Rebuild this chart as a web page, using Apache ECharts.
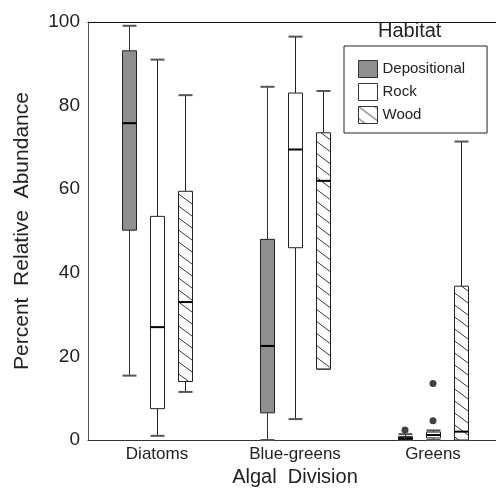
<!DOCTYPE html>
<html>
<head>
<meta charset="utf-8">
<script src="https://cdn.jsdelivr.net/npm/echarts@6/dist/echarts.min.js"></script>
<style>
html, body { margin: 0; padding: 0; background: #fff; }
#chart { width: 496px; height: 488px; }
</style>
</head>
<body>
<div id="chart"></div>
<script>
const categories = ["Diatoms", "Blue-greens", "Greens"];
// [low whisker, Q1, median, Q3, high whisker] for each category
const depositional = [[15.4, 50.2, 75.8, 93.1, 99.1], [0, 6.5, 22.5, 48, 84.5], [0, 0.1, 0.4, 0.8, 1.4]];
const rock = [[1, 7.5, 27, 53.5, 91], [5, 46, 69.5, 83, 96.5], [0, 0.5, 1.2, 1.9, 2.3]];
const wood = [[11.5, 14, 33, 59.5, 82.5], [17, 17, 62, 73.5, 83.5], [0, 0, 2, 36.8, 71.4]];
// outliers: [category index, value]
const depositionalOutliers = [[2, 2.4]];
const rockOutliers = [[2, 13.5], [2, 4.6]];
const yTicks = [0, 20, 40, 60, 80, 100];

const FONT = "'Liberation Sans', Arial, sans-serif";
const TEXT = "#222";

// diagonal hatch used for the Wood boxes
function hatch() {
	const c = document.createElement("canvas");
	c.width = 16;
	c.height = 12;
	const ctx = c.getContext("2d");
	ctx.fillStyle = "#fff";
	ctx.fillRect(0, 0, 16, 12);
	ctx.strokeStyle = "#333";
	ctx.lineWidth = 1;
	ctx.beginPath();
	ctx.moveTo(0, 0); ctx.lineTo(16, 12);
	ctx.moveTo(0, -12); ctx.lineTo(16, 0);
	ctx.moveTo(0, 12); ctx.lineTo(16, 24);
	ctx.stroke();
	return { image: c, repeat: "repeat" };
}
const woodFill = hatch();

function boxRenderer(offset, fill, whisker) {
	return function (params, api) {
		const cat = api.value(0);
		const x = Math.round(api.coord([cat, 0])[0] + offset) + 0.5;
		const y = (i) => api.coord([cat, api.value(i)])[1];
		const low = y(1), q1 = y(2), med = y(3), q3 = y(4), high = y(5);
		const half = 7;
		return {
			type: "group",
			children: [
				{ type: "line", shape: { x1: x, y1: high, x2: x, y2: q3 }, style: { stroke: whisker, lineWidth: 1 } },
				{ type: "line", shape: { x1: x, y1: q1, x2: x, y2: low }, style: { stroke: whisker, lineWidth: 1 } },
				{ type: "line", shape: { x1: x - half, y1: high, x2: x + half, y2: high }, style: { stroke: "#555", lineWidth: 2 } },
				{ type: "line", shape: { x1: x - half, y1: low, x2: x + half, y2: low }, style: { stroke: "#555", lineWidth: 2 } },
				{ type: "rect", shape: { x: x - half, y: q3, width: half * 2, height: q1 - q3 }, style: { fill: fill, stroke: "#222", lineWidth: 1 } },
				{ type: "line", shape: { x1: x - half, y1: med, x2: x + half, y2: med }, style: { stroke: "#000", lineWidth: 2 } },
			],
		};
	};
}

function boxSeries(name, values, offset, fill, whisker) {
	return {
		name: name,
		type: "custom",
		renderItem: boxRenderer(offset, fill, whisker),
		itemStyle: { color: fill, borderColor: "#222", borderWidth: 1 },
		encode: { x: 0, y: [1, 2, 3, 4, 5] },
		data: values.map((v, i) => [i].concat(v)),
		z: 3,
	};
}

const chartDom = document.getElementById("chart");
const myChart = echarts.init(chartDom);

const option = {
	animation: false,
	textStyle: { fontFamily: FONT },
	title: {
		text: "Habitat",
		left: 378,
		top: 21,
		padding: 0,
		textStyle: { fontFamily: FONT, fontSize: 20, fontWeight: "normal", color: TEXT },
	},
	legend: {
		orient: "vertical",
		left: 344,
		top: 46,
		padding: [14, 22, 9, 14],
		itemWidth: 19,
		itemHeight: 17,
		itemGap: 5,
		icon: "rect",
		borderColor: "#222",
		borderWidth: 1,
		backgroundColor: "#fff",
		textStyle: { fontFamily: FONT, fontSize: 15, color: TEXT },
		data: [
			{ name: "Depositional", itemStyle: { color: "#8f8f8f", borderColor: "#333", borderWidth: 1 } },
			{ name: "Rock", itemStyle: { color: "#fff", borderColor: "#333", borderWidth: 1 } },
			{ name: "Wood", itemStyle: { color: woodFill, borderColor: "#333", borderWidth: 1 } },
		],
	},
	grid: { left: 88, top: 22, bottom: 48, width: 414, containLabel: false, outerBoundsMode: "none" },
	xAxis: [
		{
			type: "category",
			data: categories,
			name: "Algal  Division",
			nameLocation: "middle",
			nameGap: 26,
			nameTextStyle: { fontFamily: FONT, fontSize: 20, color: TEXT },
			axisLine: { lineStyle: { color: "#333", width: 1 } },
			axisTick: { show: false },
			axisLabel: { fontFamily: FONT, fontSize: 17, color: TEXT, margin: 6 },
		},
		{
			type: "category",
			data: categories,
			position: "top",
			axisLine: { lineStyle: { color: "#111", width: 1 } },
			axisTick: { alignWithLabel: true, inside: true, length: 2, lineStyle: { color: "#888" } },
			axisLabel: { show: false },
		},
	],
	yAxis: {
		type: "value",
		min: yTicks[0],
		max: yTicks[yTicks.length - 1],
		interval: yTicks[1] - yTicks[0],
		name: "Percent  Relative  Abundance",
		nameLocation: "middle",
		nameGap: 55,
		nameTextStyle: { fontFamily: FONT, fontSize: 21, color: TEXT },
		axisLine: { show: true, lineStyle: { color: "#555", width: 1 } },
		axisTick: { show: false },
		splitLine: { show: false },
		axisLabel: { fontFamily: FONT, fontSize: 19, color: TEXT, margin: 8 },
	},
	series: [
		boxSeries("Depositional", depositional, -28, "#8f8f8f", "#333"),
		boxSeries("Rock", rock, 0, "#fff", "#222"),
		boxSeries("Wood", wood, 28, woodFill, "#222"),
		{
			name: "Depositional outliers",
			type: "scatter",
			data: depositionalOutliers,
			symbolSize: 7,
			symbolOffset: [-28, 0],
			itemStyle: { color: "#111" },
			z: 4,
		},
		{
			name: "Rock outliers",
			type: "scatter",
			data: rockOutliers,
			symbolSize: 7,
			itemStyle: { color: "#111" },
			z: 4,
		},
	],
};

myChart.setOption(option);
</script>
</body>
</html>
